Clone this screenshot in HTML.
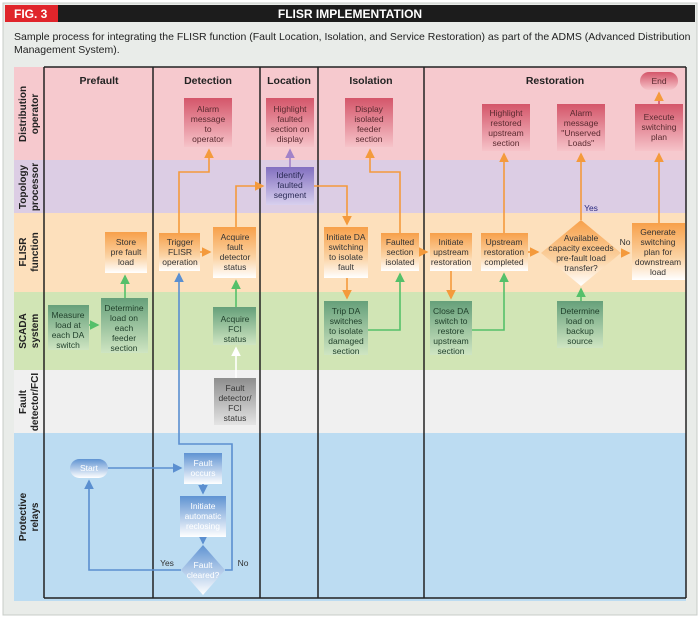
<!DOCTYPE html>
<html><head><meta charset="utf-8"><style>
body{margin:0;width:700px;height:618px;background:#fff;overflow:hidden}
svg{display:block;font-family:"Liberation Sans",sans-serif}
</style></head><body>
<svg width="700" height="618" viewBox="0 0 700 618" xmlns="http://www.w3.org/2000/svg">
<defs>
<linearGradient id="gr" x1="0" y1="0" x2="0" y2="1"><stop offset="0" stop-color="#d4566a"/><stop offset="1" stop-color="#f6c3c9"/></linearGradient>
<linearGradient id="go" x1="0" y1="0" x2="0" y2="1"><stop offset="0" stop-color="#f7a04a"/><stop offset="0.6" stop-color="#fbd3a4"/><stop offset="1" stop-color="#ffffff"/></linearGradient>
<linearGradient id="gg" x1="0" y1="0" x2="0" y2="1"><stop offset="0" stop-color="#66a07a"/><stop offset="1" stop-color="#cfe5c2"/></linearGradient>
<linearGradient id="gb" x1="0" y1="0" x2="0" y2="1"><stop offset="0" stop-color="#5f93d2"/><stop offset="1" stop-color="#ffffff"/></linearGradient>
<linearGradient id="gp" x1="0" y1="0" x2="0" y2="1"><stop offset="0" stop-color="#8270c0"/><stop offset="1" stop-color="#d8d0ee"/></linearGradient>
<linearGradient id="gy" x1="0" y1="0" x2="0" y2="1"><stop offset="0" stop-color="#8e8e8e"/><stop offset="1" stop-color="#e4e4e4"/></linearGradient>
<marker id="ao" markerWidth="6" markerHeight="6" refX="5" refY="3" orient="auto"><path d="M0,0 L6,3 L0,6z" fill="#f49a3c"/></marker>
<marker id="ag" markerWidth="6" markerHeight="6" refX="5" refY="3" orient="auto"><path d="M0,0 L6,3 L0,6z" fill="#55c06a"/></marker>
<marker id="ab" markerWidth="6" markerHeight="6" refX="5" refY="3" orient="auto"><path d="M0,0 L6,3 L0,6z" fill="#5b8fd0"/></marker>
<marker id="ap" markerWidth="6" markerHeight="6" refX="5" refY="3" orient="auto"><path d="M0,0 L6,3 L0,6z" fill="#a282c8"/></marker>
<marker id="aw" markerWidth="6" markerHeight="6" refX="5" refY="3" orient="auto"><path d="M0,0 L6,3 L0,6z" fill="#ffffff"/></marker>
</defs>
<rect width="700" height="618" fill="#fff"/>
<rect x="3" y="3" width="694" height="612" fill="#e9ece9" stroke="#c8ccc8"/>
<rect x="5" y="5" width="690" height="17" fill="#1c1c1c"/>
<rect x="5" y="5" width="53" height="17" fill="#e0252b"/>
<text x="14" y="18" font-size="12" font-weight="bold" fill="#fff">FIG. 3</text>
<text x="350" y="18" font-size="12" font-weight="bold" fill="#fff" text-anchor="middle">FLISR IMPLEMENTATION</text>
<text x="14" y="40" font-size="10.5" fill="#222">Sample process for integrating the FLISR function (Fault Location, Isolation, and Service Restoration) as part of the ADMS (Advanced Distribution</text>
<text x="14" y="53" font-size="10.5" fill="#222">Management System).</text>
<!-- lanes -->
<rect x="14" y="67" width="672" height="93" fill="#f6c9ce"/>
<rect x="14" y="160" width="672" height="53" fill="#dccde4"/>
<rect x="14" y="213" width="672" height="79" fill="#fde0bc"/>
<rect x="14" y="292" width="672" height="78" fill="#d1e5b5"/>
<rect x="14" y="370" width="672" height="63" fill="#f0f0f0"/>
<rect x="14" y="433" width="672" height="168" fill="#bcdcf2"/>
<g stroke="#222" stroke-width="1.5">
<line x1="44" y1="67" x2="44" y2="598"/><line x1="153" y1="67" x2="153" y2="598"/><line x1="260" y1="67" x2="260" y2="598"/><line x1="318" y1="67" x2="318" y2="598"/><line x1="424" y1="67" x2="424" y2="598"/><line x1="686" y1="67" x2="686" y2="598"/>
<line x1="44" y1="67" x2="686" y2="67"/><line x1="44" y1="598" x2="686" y2="598"/>
</g>
<g font-size="10.5" font-weight="bold" fill="#222" text-anchor="middle">
<text x="99" y="84">Prefault</text><text x="208" y="84">Detection</text><text x="289" y="84">Location</text><text x="371" y="84">Isolation</text><text x="555" y="84">Restoration</text>
</g>
<g font-size="10" font-weight="bold" fill="#222" text-anchor="middle">
<text transform="translate(26,114) rotate(-90)">Distribution</text><text transform="translate(38,114) rotate(-90)">operator</text>
<text transform="translate(26,187) rotate(-90)">Topology</text><text transform="translate(38,187) rotate(-90)">processor</text>
<text transform="translate(26,252) rotate(-90)">FLISR</text><text transform="translate(38,252) rotate(-90)">function</text>
<text transform="translate(26,331) rotate(-90)">SCADA</text><text transform="translate(38,331) rotate(-90)">system</text>
<text transform="translate(26,402) rotate(-90)">Fault</text><text transform="translate(38,402) rotate(-90)">detector/FCI</text>
<text transform="translate(26,517) rotate(-90)">Protective</text><text transform="translate(38,517) rotate(-90)">relays</text>
</g>
<!-- connectors -->
<g fill="none" stroke-width="1.6">
<path d="M108,468 H181" stroke="#5b8fd0" marker-end="url(#ab)"/>
<path d="M203,484 V493" stroke="#5b8fd0" marker-end="url(#ab)"/>
<path d="M203,537 V543" stroke="#5b8fd0" marker-end="url(#ab)"/>
<path d="M181,570 H89 V481" stroke="#5b8fd0" marker-end="url(#ab)"/>
<path d="M225,570 H232 V444 H179 V274" stroke="#5b8fd0" marker-end="url(#ab)"/>
<path d="M200,252 H210" stroke="#f49a3c" marker-end="url(#ao)"/>
<path d="M179,233 V172 H209 V150" stroke="#f49a3c" marker-end="url(#ao)"/>
<path d="M236,227 V186 H263" stroke="#f49a3c" marker-end="url(#ao)"/>
<path d="M314,186 H347 V224" stroke="#f49a3c" marker-end="url(#ao)"/>
<path d="M290,167 V150" stroke="#a282c8" marker-end="url(#ap)"/>
<path d="M236,307 V281" stroke="#55c06a" marker-end="url(#ag)"/>
<path d="M236,378 V348" stroke="#ffffff" marker-end="url(#aw)"/>
<path d="M89,325 H98" stroke="#55c06a" marker-end="url(#ag)"/>
<path d="M125,298 V276" stroke="#55c06a" marker-end="url(#ag)"/>
<path d="M347,278 V298" stroke="#f49a3c" marker-end="url(#ao)"/>
<path d="M368,330 H400 V274" stroke="#55c06a" marker-end="url(#ag)"/>
<path d="M400,233 V172 H370 V150" stroke="#f49a3c" marker-end="url(#ao)"/>
<path d="M419,252 H427" stroke="#f49a3c" marker-end="url(#ao)"/>
<path d="M451,271 V298" stroke="#f49a3c" marker-end="url(#ao)"/>
<path d="M472,330 H504 V274" stroke="#55c06a" marker-end="url(#ag)"/>
<path d="M504,233 V154" stroke="#f49a3c" marker-end="url(#ao)"/>
<path d="M528,252 H538" stroke="#f49a3c" marker-end="url(#ao)"/>
<path d="M581,220 V154" stroke="#f49a3c" marker-end="url(#ao)"/>
<path d="M621,253 H629" stroke="#f49a3c" marker-end="url(#ao)"/>
<path d="M659,223 V154" stroke="#f49a3c" marker-end="url(#ao)"/>
<path d="M659,104 V93" stroke="#d4566a" marker-end="url(#ao)"/>
<path d="M581,301 V289" stroke="#55c06a" marker-end="url(#ag)"/>
</g>
<!-- boxes -->
<g font-size="8.5" fill="#333" text-anchor="middle">
<rect x="184" y="98" width="48" height="49" fill="url(#gr)"/><text x="208" y="112" fill="#5a2a30">Alarm<tspan x="208" dy="10">message</tspan><tspan x="208" dy="10">to</tspan><tspan x="208" dy="10">operator</tspan></text>
<rect x="266" y="98" width="48" height="49" fill="url(#gr)"/><text x="290" y="112" fill="#5a2a30">Highlight<tspan x="290" dy="10">faulted</tspan><tspan x="290" dy="10">section on</tspan><tspan x="290" dy="10">display</tspan></text>
<rect x="266" y="167" width="48" height="38" fill="url(#gp)"/><text x="290" y="178" fill="#2a2a55">Identify<tspan x="290" dy="10">faulted</tspan><tspan x="290" dy="10">segment</tspan></text>
<rect x="345" y="98" width="48" height="49" fill="url(#gr)"/><text x="369" y="112" fill="#5a2a30">Display<tspan x="369" dy="10">isolated</tspan><tspan x="369" dy="10">feeder</tspan><tspan x="369" dy="10">section</tspan></text>
<rect x="482" y="104" width="48" height="47" fill="url(#gr)"/><text x="506" y="116" fill="#5a2a30">Highlight<tspan x="506" dy="10">restored</tspan><tspan x="506" dy="10">upstream</tspan><tspan x="506" dy="10">section</tspan></text>
<rect x="557" y="104" width="48" height="47" fill="url(#gr)"/><text x="581" y="116" fill="#5a2a30">Alarm<tspan x="581" dy="10">message</tspan><tspan x="581" dy="10">"Unserved</tspan><tspan x="581" dy="10">Loads"</tspan></text>
<rect x="635" y="104" width="48" height="47" fill="url(#gr)"/><text x="659" y="120" fill="#5a2a30">Execute<tspan x="659" dy="10">switching</tspan><tspan x="659" dy="10">plan</tspan></text>
<rect x="640" y="72" width="38" height="18" rx="9" fill="url(#gr)"/><text x="659" y="84" fill="#5a2a30">End</text>
<rect x="105" y="232" width="42" height="41" fill="url(#go)"/><text x="126" y="245">Store<tspan x="126" dy="10">pre fault</tspan><tspan x="126" dy="10">load</tspan></text>
<rect x="159" y="233" width="41" height="38" fill="url(#go)"/><text x="180" y="245">Trigger<tspan x="180" dy="10">FLISR</tspan><tspan x="180" dy="10">operation</tspan></text>
<rect x="213" y="227" width="43" height="51" fill="url(#go)"/><text x="235" y="240">Acquire<tspan x="235" dy="10">fault</tspan><tspan x="235" dy="10">detector</tspan><tspan x="235" dy="10">status</tspan></text>
<rect x="324" y="227" width="44" height="51" fill="url(#go)"/><text x="346" y="240">Initiate DA<tspan x="346" dy="10">switching</tspan><tspan x="346" dy="10">to isolate</tspan><tspan x="346" dy="10">fault</tspan></text>
<rect x="381" y="233" width="38" height="38" fill="url(#go)"/><text x="400" y="245">Faulted<tspan x="400" dy="10">section</tspan><tspan x="400" dy="10">isolated</tspan></text>
<rect x="430" y="233" width="42" height="38" fill="url(#go)"/><text x="451" y="245">Initiate<tspan x="451" dy="10">upstream</tspan><tspan x="451" dy="10">restoration</tspan></text>
<rect x="481" y="233" width="47" height="38" fill="url(#go)"/><text x="504" y="245">Upstream<tspan x="504" dy="10">restoration</tspan><tspan x="504" dy="10">completed</tspan></text>
<path d="M581,220 L621,253 L581,286 L541,253z" fill="url(#go)"/><text x="581" y="241">Available<tspan x="581" dy="10">capacity exceeds</tspan><tspan x="581" dy="10">pre-fault load</tspan><tspan x="581" dy="10">transfer?</tspan></text>
<rect x="632" y="223" width="53" height="57" fill="url(#go)"/><text x="658" y="235">Generate<tspan x="658" dy="10">switching</tspan><tspan x="658" dy="10">plan for</tspan><tspan x="658" dy="10">downstream</tspan><tspan x="658" dy="10">load</tspan></text>
<rect x="48" y="305" width="41" height="45" fill="url(#gg)"/><text x="68" y="318" fill="#1f3f2a">Measure<tspan x="68" dy="10">load at</tspan><tspan x="68" dy="10">each DA</tspan><tspan x="68" dy="10">switch</tspan></text>
<rect x="101" y="298" width="47" height="55" fill="url(#gg)"/><text x="124" y="311" fill="#1f3f2a">Determine<tspan x="124" dy="10">load on</tspan><tspan x="124" dy="10">each</tspan><tspan x="124" dy="10">feeder</tspan><tspan x="124" dy="10">section</tspan></text>
<rect x="213" y="307" width="43" height="38" fill="url(#gg)"/><text x="235" y="322" fill="#1f3f2a">Acquire<tspan x="235" dy="10">FCI</tspan><tspan x="235" dy="10">status</tspan></text>
<rect x="324" y="301" width="44" height="54" fill="url(#gg)"/><text x="346" y="314" fill="#1f3f2a">Trip DA<tspan x="346" dy="10">switches</tspan><tspan x="346" dy="10">to isolate</tspan><tspan x="346" dy="10">damaged</tspan><tspan x="346" dy="10">section</tspan></text>
<rect x="430" y="301" width="42" height="54" fill="url(#gg)"/><text x="451" y="314" fill="#1f3f2a">Close DA<tspan x="451" dy="10">switch to</tspan><tspan x="451" dy="10">restore</tspan><tspan x="451" dy="10">upstream</tspan><tspan x="451" dy="10">section</tspan></text>
<rect x="557" y="301" width="46" height="47" fill="url(#gg)"/><text x="580" y="314" fill="#1f3f2a">Determine<tspan x="580" dy="10">load on</tspan><tspan x="580" dy="10">backup</tspan><tspan x="580" dy="10">source</tspan></text>
<rect x="214" y="378" width="42" height="47" fill="url(#gy)"/><text x="235" y="391">Fault<tspan x="235" dy="10">detector/</tspan><tspan x="235" dy="10">FCI</tspan><tspan x="235" dy="10">status</tspan></text>
<rect x="70" y="459" width="38" height="19" rx="9.5" fill="url(#gb)"/><text x="89" y="471" fill="#fff">Start</text>
<rect x="184" y="453" width="38" height="31" fill="url(#gb)"/><text x="203" y="466" fill="#fff">Fault<tspan x="203" dy="10">occurs</tspan></text>
<rect x="180" y="496" width="46" height="41" fill="url(#gb)"/><text x="203" y="509" fill="#fff">Initiate<tspan x="203" dy="10">automatic</tspan><tspan x="203" dy="10">reclosing</tspan></text>
<path d="M203,545 L225,570 L203,595 L181,570z" fill="url(#gb)"/><text x="203" y="568" fill="#fff">Fault<tspan x="203" dy="10">cleared?</tspan></text>
<text x="167" y="566">Yes</text><text x="243" y="566">No</text>
<text x="591" y="211" fill="#2a2a80">Yes</text><text x="625" y="245">No</text>
</g>
</svg>
</body></html>
